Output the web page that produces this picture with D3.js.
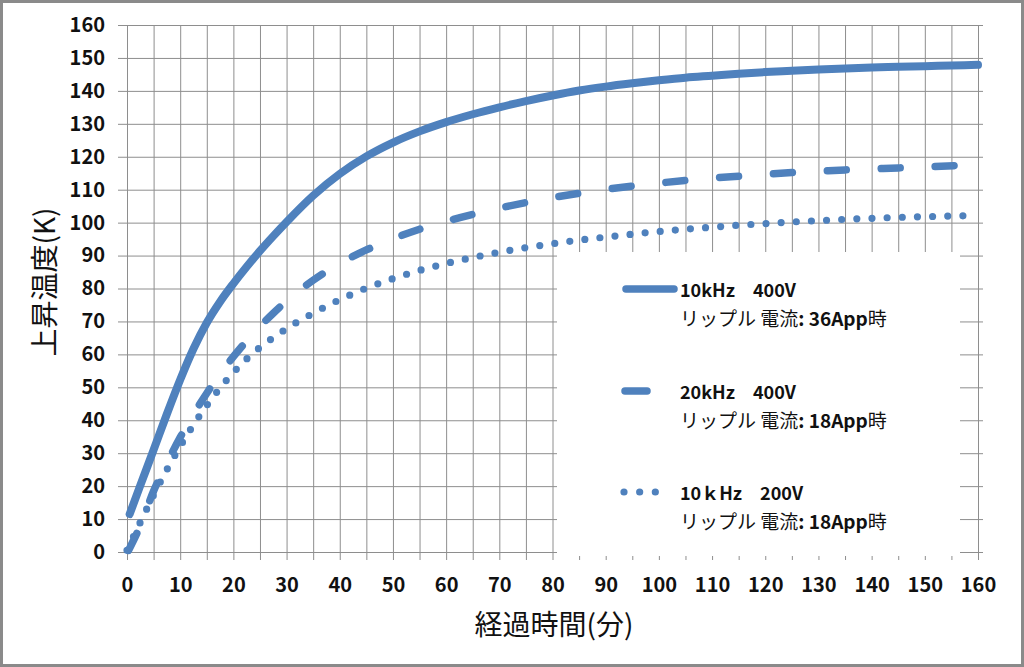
<!DOCTYPE html>
<html>
<head>
<meta charset="utf-8">
<script src="https://cdn.jsdelivr.net/npm/d3@7"></script>
<style>
  html, body { margin: 0; padding: 0; background: #fff; }
  svg { display: block; }
  text { font-family: 'Noto Sans CJK JP', sans-serif; fill: #111; }
</style>
</head>
<body>
<svg id="chart" width="1024" height="667"></svg>
<script>
// ---- data ----
const xTicks = [0, 10, 20, 30, 40, 50, 60, 70, 80, 90, 100, 110, 120, 130, 140, 150, 160];
const yTicks = [0, 10, 20, 30, 40, 50, 60, 70, 80, 90, 100, 110, 120, 130, 140, 150, 160];

// 10kHz 400V (solid)
const tA = [0.5, 2.5, 5, 7.5, 10, 12.5, 15, 17.5, 20, 22.5, 25, 27.5, 30, 35, 40, 45, 50, 55, 60, 65, 70, 75, 80, 85, 90, 95, 100, 105, 110, 115, 120, 125, 130, 135, 140, 145, 150, 155, 160];
const vA = [11.5, 20.2, 31, 41.9, 52.3, 61.7, 69.6, 76, 81.5, 86.6, 91.4, 95.9, 100.2, 108.2, 114.8, 120.1, 124.3, 127.7, 130.5, 132.9, 135, 136.9, 138.6, 140.1, 141.3, 142.3, 143.2, 144, 144.6, 145.2, 145.7, 146.1, 146.5, 146.8, 147.1, 147.3, 147.5, 147.7, 147.9];

// 20kHz 400V (dashed)
const tB = [0.3, 2.5, 5, 7.5, 10, 12.5, 15, 17.5, 20, 22.5, 25, 27.5, 30, 35, 40, 45, 50, 55, 60, 65, 70, 75, 80, 85, 90, 95, 100, 105, 110, 115, 120, 125, 130, 135, 140, 145, 150, 155.5];
const vB = [0.5, 8, 18.5, 27, 34.8, 41.8, 48.2, 54, 59.3, 64.1, 68.5, 72.5, 76.2, 82.5, 87.6, 91.7, 95.1, 98, 100.4, 102.5, 104.4, 106.1, 107.6, 108.9, 110.1, 111.1, 112, 112.8, 113.5, 114.1, 114.7, 115.2, 115.6, 116, 116.3, 116.6, 116.9, 117.3];

// 10kHz 200V (dotted)
const tC = [0, 2.5, 5, 7.5, 10, 12.5, 15, 17.5, 20, 22.5, 25, 27.5, 30, 35, 40, 45, 50, 55, 60, 65, 70, 75, 80, 85, 90, 95, 100, 105, 110, 115, 120, 125, 130, 135, 140, 145, 150, 155, 160];
const vC = [0.5, 9, 17.3, 25, 32.1, 38.6, 44.5, 49.8, 54.5, 58.6, 62.1, 65.1, 67.8, 72.5, 76.6, 80.1, 83, 85.5, 87.6, 89.4, 91, 92.4, 93.6, 94.7, 95.6, 96.5, 97.3, 98, 98.6, 99.2, 99.7, 100.2, 100.6, 101, 101.3, 101.6, 101.8, 102, 102.1];

const legendLines1 = ["10kHz\u3000400V", "20kHz\u3000400V", "10\uFF4BHz\u3000200V"];
const legendLines2 = ["36App", "18App", "18App"];

const blue = "#4F81BD";
const grid = "#8e8e8e";

const svg = d3.select("#chart");

// frame
svg.append("rect").attr("x", 1.5).attr("y", 1.5).attr("width", 1021).attr("height", 664)
  .attr("fill", "#fff").attr("stroke", "#8a8a8a").attr("stroke-width", 3);

const x = d3.scaleLinear().domain([0, 160]).range([127, 978]);
const y = d3.scaleLinear().domain([0, 160]).range([552, 25]);

// vertical grid (every 5) with tick marks below axis
const gx = svg.append("g").attr("transform", `translate(0,${y(0)})`)
  .call(d3.axisBottom(x).tickValues(d3.range(0, 161, 5)).tickSize(0).tickFormat(""));
gx.select(".domain").remove();
gx.selectAll(".tick line").attr("y1", 8).attr("y2", y(160) - y(0)).attr("stroke", grid).attr("stroke-width", 1);

// horizontal grid (every 10)
const gy = svg.append("g").attr("transform", `translate(${x(0)},0)`)
  .call(d3.axisLeft(y).tickValues(yTicks).tickSize(0).tickFormat(""));
gy.select(".domain").remove();
gy.selectAll(".tick line").attr("x1", -9).attr("x2", x(160) - x(0) + 5).attr("stroke", grid).attr("stroke-width", 1);

// tick labels
const xl = svg.append("g").attr("transform", `translate(0,${y(0)})`)
  .call(d3.axisBottom(x).tickValues(xTicks).tickSize(0).tickFormat(d3.format("d")));
xl.select(".domain").remove();
xl.selectAll("text").attr("font-size", 20).attr("font-weight", 700).attr("fill", "#111")
  .attr("font-family", "'Noto Sans CJK JP', sans-serif").attr("dy", "0.35em").attr("y", 33);

const yl = svg.append("g").attr("transform", `translate(105,0)`)
  .call(d3.axisLeft(y).tickValues(yTicks).tickSize(0).tickPadding(0).tickFormat(d3.format("d")));
yl.select(".domain").remove();
yl.selectAll("text").attr("font-size", 20).attr("font-weight", 700).attr("fill", "#111")
  .attr("font-family", "'Noto Sans CJK JP', sans-serif");

// axis titles
svg.append("text").attr("x", 554).attr("y", 623).attr("text-anchor", "middle")
  .attr("dominant-baseline", "central").attr("font-size", 28).text("経過時間(分)");
svg.append("text").attr("transform", "translate(43,282) rotate(-90)").attr("text-anchor", "middle")
  .attr("dominant-baseline", "central").attr("font-size", 28).text("上昇温度(K)");

// series
const line = d3.line().x(d => x(d[0])).y(d => y(d[1])).curve(d3.curveMonotoneX);
const dA = tA.map((t, i) => [t, vA[i]]);
const dB = tB.map((t, i) => [t, vB[i]]);
const dC = tC.map((t, i) => [t, vC[i]]);

svg.append("path").attr("d", line(dA)).attr("fill", "none").attr("stroke", blue)
  .attr("stroke-width", 8).attr("stroke-linecap", "round").attr("stroke-linejoin", "round");

const pB = svg.append("path").attr("d", line(dB)).attr("fill", "none").attr("stroke", blue)
  .attr("stroke-width", 7.5).attr("stroke-linecap", "round").attr("stroke-linejoin", "round");
const LB = pB.node().getTotalLength();
const periodB = (LB - 19) / 18;
pB.attr("stroke-dasharray", `19 ${periodB - 19}`);

const pC = svg.append("path").attr("d", line(dC)).attr("fill", "none").attr("stroke", blue)
  .attr("stroke-width", 7.2).attr("stroke-linecap", "round");
const LC = pC.node().getTotalLength();
const nC = Math.round(LC / 15.2);
pC.attr("stroke-dasharray", `0 ${LC / nC}`);

// legend
svg.append("rect").attr("x", 557).attr("y", 252).attr("width", 403).attr("height", 304).attr("fill", "#fff");

const leg = svg.append("g");
const rows = [289, 391, 492];
leg.append("line").attr("x1", 626).attr("x2", 674).attr("y1", rows[0]).attr("y2", rows[0])
  .attr("stroke", blue).attr("stroke-width", 7.5).attr("stroke-linecap", "round");
leg.append("line").attr("x1", 625).attr("x2", 647).attr("y1", rows[1]).attr("y2", rows[1])
  .attr("stroke", blue).attr("stroke-width", 7.5).attr("stroke-linecap", "round");
leg.append("line").attr("x1", 624).attr("x2", 671).attr("y1", rows[2]).attr("y2", rows[2])
  .attr("stroke", blue).attr("stroke-width", 7.2).attr("stroke-linecap", "round")
  .attr("stroke-dasharray", `0 ${47 / 3}`);

rows.forEach((ry, i) => {
  leg.append("text").attr("x", 680).attr("y", ry).attr("dominant-baseline", "central")
    .attr("font-size", 18).attr("font-weight", 700).style("white-space", "pre")
    .text(legendLines1[i]);
  const t2 = leg.append("text").attr("x", 680).attr("y", ry + 28).attr("dominant-baseline", "central")
    .attr("font-size", 19).style("white-space", "pre");
  t2.append("tspan").text("リップル 電流");
  t2.append("tspan").attr("font-weight", 700).text(": " + legendLines2[i]);
  t2.append("tspan").text("時");
});
</script>
</body>
</html>
